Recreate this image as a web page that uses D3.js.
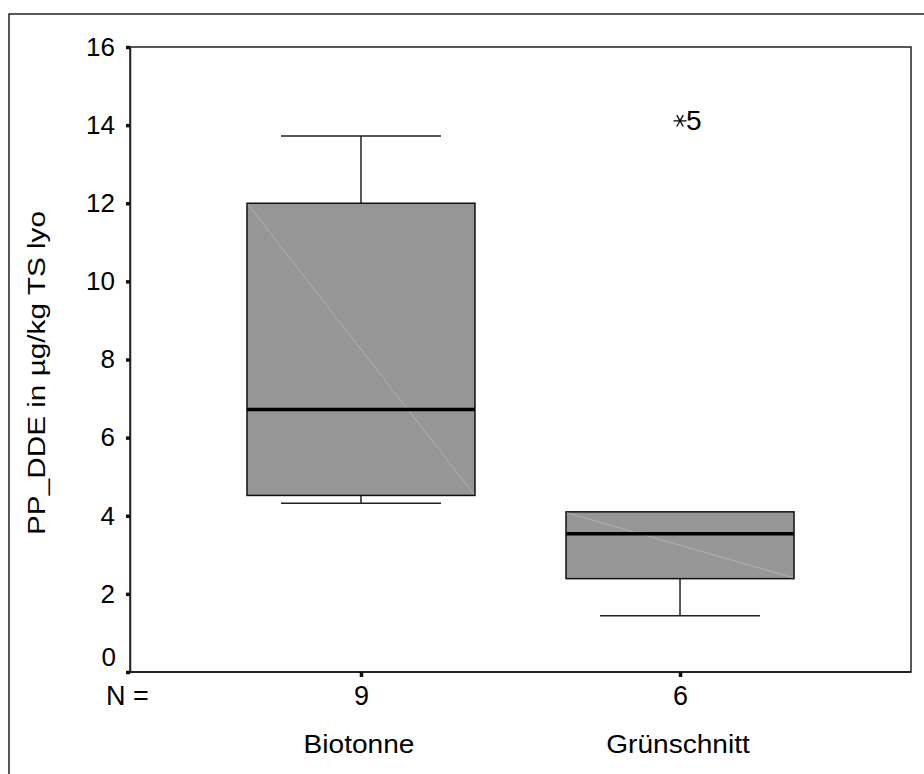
<!DOCTYPE html>
<html>
<head>
<meta charset="utf-8">
<script src="https://cdn.jsdelivr.net/npm/d3@7"></script>
<style>
  html, body { margin: 0; padding: 0; background: #fff; }
  svg { display: block; font-family: "Liberation Sans", Arial, sans-serif; }
</style>
</head>
<body>
<svg id="chart" width="924" height="774"></svg>
<script>
// Box plot statistics per group (µg/kg TS lyo)
const categories = ["Biotonne", "Grünschnitt"];
const counts = [9, 6];
const q1 = [4.52, 2.39];
const medians = [6.72, 3.54];
const q3 = [12.0, 4.10];
const whiskerLow = [4.32, 1.44];
const whiskerHigh = [13.72, 4.10];
// Extreme values: group, value, case label
const extremeGroups = ["Grünschnitt"];
const extremeValues = [14.11];
const extremeLabels = ["5"];
const yTicks = [0, 2, 4, 6, 8, 10, 12, 14, 16];
const yTitle = "PP_DDE in µg/kg TS lyo";

const svg = d3.select("#chart");
const frame = { left: 9, top: 14 };
const plot = { left: 130, top: 47, right: 911, bottom: 672 };

// Outer frame around the whole graphic
svg.append("rect")
  .attr("x", frame.left).attr("y", frame.top)
  .attr("width", 960).attr("height", 800)
  .attr("fill", "none").attr("stroke", "#222").attr("stroke-width", 1.5);

const y = d3.scaleLinear().domain([0, 16]).range([plot.bottom, plot.top]);
const x = d3.scalePoint().domain(categories).range([plot.left, plot.right]).padding(0.724);
const boxW = 228, capW = 160;

// Plot area border
svg.append("rect")
  .attr("x", plot.left).attr("y", plot.top)
  .attr("width", plot.right - plot.left).attr("height", plot.bottom - plot.top)
  .attr("fill", "none").attr("stroke", "#222").attr("stroke-width", 1.5);
svg.append("line")
  .attr("x1", plot.left).attr("x2", plot.right)
  .attr("y1", plot.bottom).attr("y2", plot.bottom)
  .attr("stroke", "#222").attr("stroke-width", 2.2);

// Y axis
const yAxis = d3.axisLeft(y).tickValues(yTicks).tickSize(4).tickPadding(11).tickFormat(d3.format("d"));
const gy = svg.append("g").attr("transform", `translate(${plot.left},0)`).call(yAxis);
gy.select(".domain").attr("stroke", "#222").attr("stroke-width", 1.5);
gy.selectAll(".tick line").attr("stroke", "#111").attr("stroke-width", 3.5);
gy.selectAll(".tick text").attr("font-size", 26).attr("fill", "#000")
  .attr("font-family", "Liberation Sans, Arial, sans-serif");
// lift the zero label clear of the group-size row
gy.selectAll(".tick text").filter(d => d === 0).attr("transform", "translate(1,-15)");

// X axis: ticks with group sizes
const xAxis = d3.axisBottom(x).tickSize(5).tickPadding(9).tickFormat((d, i) => counts[i]);
const gx = svg.append("g").attr("transform", `translate(0,${plot.bottom})`).call(xAxis);
gx.select(".domain").remove();
gx.selectAll(".tick line").attr("stroke", "#111").attr("stroke-width", 3.5);
gx.selectAll(".tick text").attr("font-size", 27).attr("fill", "#000")
  .attr("font-family", "Liberation Sans, Arial, sans-serif");

svg.append("text").attr("x", 106).attr("y", 705)
  .attr("font-size", 27).text("N =");

// Category names
svg.selectAll(".cat").data(categories).join("text")
  .attr("class", "cat")
  .attr("transform", d => `translate(${x(d) - 2},753) scale(1.08,1)`)
  .attr("text-anchor", "middle").attr("font-size", 26)
  .text(d => d);

// Y title
svg.append("text")
  .attr("transform", `translate(45,373) rotate(-90) scale(1.24,1)`)
  .attr("text-anchor", "middle").attr("font-size", 24)
  .text(yTitle);

// Boxes
const groups = categories.map((c, i) => ({
  c, q1: q1[i], med: medians[i], q3: q3[i], lo: whiskerLow[i], hi: whiskerHigh[i]
}));
const g = svg.selectAll(".box").data(groups).join("g").attr("class", "box");

// whiskers
g.append("line")
  .attr("x1", d => x(d.c)).attr("x2", d => x(d.c))
  .attr("y1", d => y(d.q3)).attr("y2", d => y(d.hi))
  .attr("stroke", "#222").attr("stroke-width", 1.5);
g.append("line")
  .attr("x1", d => x(d.c)).attr("x2", d => x(d.c))
  .attr("y1", d => y(d.q1)).attr("y2", d => y(d.lo))
  .attr("stroke", "#222").attr("stroke-width", 1.5);
g.filter(d => d.hi > d.q3).append("line")
  .attr("x1", d => x(d.c) - capW / 2).attr("x2", d => x(d.c) + capW / 2)
  .attr("y1", d => y(d.hi)).attr("y2", d => y(d.hi))
  .attr("stroke", "#222").attr("stroke-width", 1.5);
g.filter(d => d.lo < d.q1).append("line")
  .attr("x1", d => x(d.c) - capW / 2).attr("x2", d => x(d.c) + capW / 2)
  .attr("y1", d => y(d.lo)).attr("y2", d => y(d.lo))
  .attr("stroke", "#222").attr("stroke-width", 1.5);

// box body
g.append("rect")
  .attr("x", d => x(d.c) - boxW / 2).attr("y", d => y(d.q3))
  .attr("width", boxW).attr("height", d => y(d.q1) - y(d.q3))
  .attr("fill", "#969696").attr("stroke", "#111").attr("stroke-width", 1.5);
// faint diagonal rendering seam
g.append("line")
  .attr("x1", d => x(d.c) - boxW / 2 + 1).attr("y1", d => y(d.q3) + 1)
  .attr("x2", d => x(d.c) + boxW / 2 - 1).attr("y2", d => y(d.q1) - 1)
  .attr("stroke", "#b8b8b8").attr("stroke-width", 0.8);
// median
g.append("line")
  .attr("x1", d => x(d.c) - boxW / 2).attr("x2", d => x(d.c) + boxW / 2)
  .attr("y1", d => y(d.med)).attr("y2", d => y(d.med))
  .attr("stroke", "#000").attr("stroke-width", 3.5);

// Extreme values: asterisk marker + case number
const ext = extremeGroups.map((c, i) => ({ c, v: extremeValues[i], label: extremeLabels[i] }));
const star = d3.path();
[0, 60, 120].forEach(a => {
  const r = a * Math.PI / 180, rx = 6.5, ry = 6.5;
  star.moveTo(-rx * Math.cos(r), -ry * Math.sin(r));
  star.lineTo(rx * Math.cos(r), ry * Math.sin(r));
});
const eg = svg.selectAll(".ext").data(ext).join("g").attr("class", "ext")
  .attr("transform", d => `translate(${x(d.c)},${y(d.v)})`);
eg.append("path").attr("d", star.toString()).attr("stroke", "#000").attr("stroke-width", 1.3).attr("fill", "none");
eg.append("text").attr("x", 6).attr("y", 9).attr("font-size", 28).text(d => d.label);
</script>
</body>
</html>
